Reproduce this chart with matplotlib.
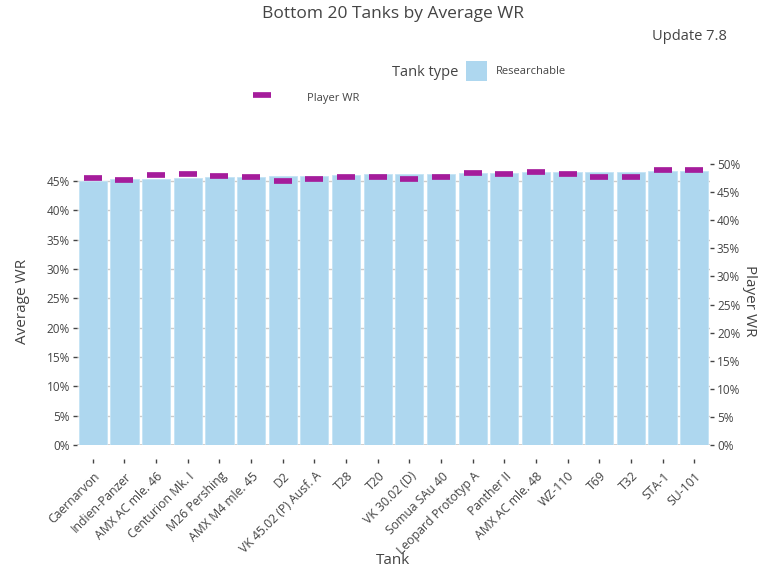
import matplotlib
matplotlib.use("Agg")
import matplotlib.pyplot as plt
from matplotlib.patches import Rectangle
from matplotlib.lines import Line2D
from matplotlib.ticker import FuncFormatter, MultipleLocator
import matplotlib.transforms as mtransforms

plt.rcParams['font.family'] = ['Open Sans', 'DejaVu Sans']

tanks = ["Caernarvon", "Indien-Panzer", "AMX AC mle. 46", "Centurion Mk. I",
         "M26 Pershing", "AMX M4 mle. 45", "D2", "VK 45.02 (P) Ausf. A", "T28",
         "T20", "VK 30.02 (D)", "Somua SAu 40", "Leopard Prototyp A", "Panther II",
         "AMX AC mle. 48", "WZ-110", "T69", "T32", "STA-1", "SU-101"]
avg_wr = [45.0, 45.3, 45.4, 45.55, 45.7, 45.7, 45.8, 45.9, 46.0, 46.15,
          46.2, 46.2, 46.35, 46.4, 46.5, 46.5, 46.6, 46.6, 46.7, 46.75]
player_wr = [47.6, 47.2, 48.1, 48.3, 47.9, 47.7, 47.0, 47.4, 47.7, 47.7,
             47.4, 47.7, 48.4, 48.3, 48.6, 48.3, 47.7, 47.7, 49.0, 49.0]

txt = '#444444'
bar_col = '#aed7ef'
mark_col = '#a51c9b'

fig = plt.figure(figsize=(7.68, 5.76), dpi=100)
ax = fig.add_axes([77/768, 1 - 445/576, 633/768, 288/576])
ax2 = ax.twinx()

x = list(range(len(tanks)))
ax.bar(x, avg_wr, width=0.89, color=bar_col, edgecolor='#c4e3f5', linewidth=0.6, zorder=2)
ax.set_axisbelow(True)
ax.yaxis.grid(True, color='#cccccc', linewidth=1)
ax.axhline(0, color='#cccccc', linewidth=2, zorder=1)

ax2.plot(x, player_wr, linestyle='none', marker='_', markersize=13.4,
         markeredgewidth=4.1, color=mark_col, zorder=3)

ax.set_xlim(-0.5, len(tanks) - 0.5)
ax.set_ylim(0, 49.09)
ax2.set_ylim(0, 51.25)

pct = FuncFormatter(lambda v, p: f"{v:.0f}%")
for a in (ax, ax2):
    a.yaxis.set_major_locator(MultipleLocator(5))
    a.yaxis.set_major_formatter(pct)
    for s in a.spines.values():
        s.set_visible(False)
ax.tick_params(axis='y', colors=txt, labelsize=8.5, length=3, width=1, pad=2, color=txt)
ax2.tick_params(axis='y', colors=txt, labelsize=8.5, length=3, width=1, pad=2, color=txt)

ax.spines['bottom'].set_position(('outward', 10))
ax.set_xticks(x)
ax.set_xticklabels(tanks, rotation=45, ha='right', va='center', rotation_mode='anchor')
ax.tick_params(axis='x', colors=txt, labelsize=8.8, length=3, width=1, pad=8, color=txt)
# nudge the slanted labels a little to the right, like the original
shift = mtransforms.ScaledTranslation(5/100, 0, fig.dpi_scale_trans)
for lbl in ax.get_xticklabels():
    lbl.set_transform(lbl.get_transform() + shift)

ax.set_xlabel('Tank', fontsize=11, color=txt, labelpad=-3)
ax.set_ylabel('Average WR', fontsize=11, color=txt, labelpad=12)
ax2.set_ylabel('Player WR', fontsize=11, color=txt, rotation=-90, labelpad=12)

fig.text(393/768, 1 - 14/576, 'Bottom 20 Tanks by Average WR', ha='center', va='center',
         fontsize=12.5, color=txt)
fig.text(727/768, 1 - 37/576, 'Update 7.8', ha='right', va='center', fontsize=10.5, color=txt)

# legend drawn by hand
fig.text(458/768, 1 - 72/576, 'Tank type', ha='right', va='center', fontsize=10.5, color=txt)
fig.patches.append(Rectangle((466/768, 1 - 81/576), 21/768, 20/576, transform=fig.transFigure,
                             facecolor=bar_col, edgecolor='none'))
fig.text(496/768, 1 - 71/576, 'Researchable', ha='left', va='center', fontsize=8, color=txt)
fig.lines.append(Line2D([253/768, 271/768], [1 - 95/576, 1 - 95/576], transform=fig.transFigure,
                        color=mark_col, linewidth=4.1, solid_capstyle='butt'))
fig.text(307/768, 1 - 99/576, 'Player WR', ha='left', va='center', fontsize=8, color=txt)

fig.savefig('out.png', dpi=100)
